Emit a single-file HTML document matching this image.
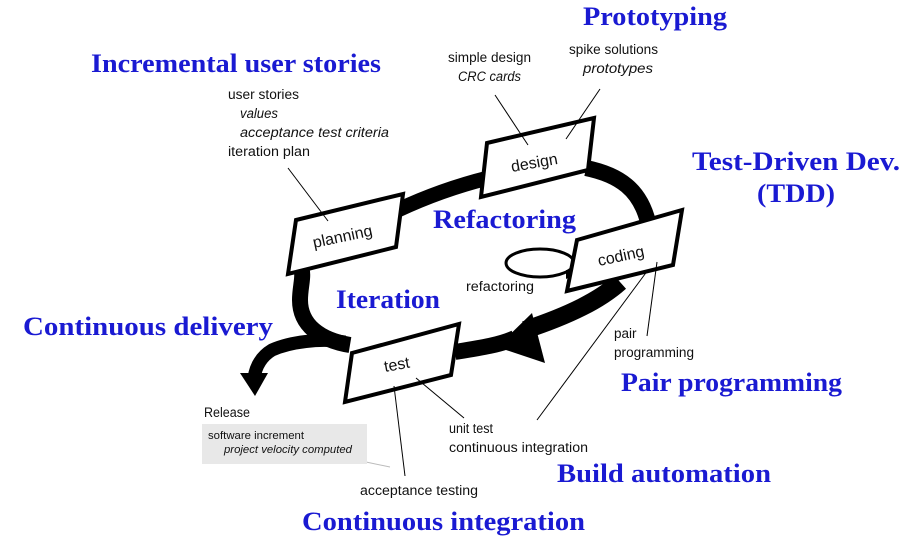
<!DOCTYPE html>
<html><head><meta charset="utf-8"><style>
html,body{margin:0;padding:0;background:#fff}
svg{display:block}
.b{font-family:"Liberation Serif",serif;font-weight:bold;font-size:26px;fill:#1a1ad2}
.s{font-family:"Liberation Sans",sans-serif;font-size:13.5px;fill:#111}
.i{font-style:italic}
.bx{font-family:"Liberation Sans",sans-serif;font-size:16px;fill:#111}
</style></head><body>
<svg width="917" height="558" viewBox="0 0 917 558" xmlns="http://www.w3.org/2000/svg">
<rect width="917" height="558" fill="#fff"/>
<g fill="none" stroke="#000" stroke-linecap="butt">
<path d="M398,210 C430,195 460,185 488,178" stroke-width="15"/>
<path d="M586,168 C620,175 640,190 648,222" stroke-width="16"/>
<path d="M300,265 C305,275 300,285 300,300 C300,325 320,340 350,345" stroke-width="16"/>
<path d="M455,352 C480,348 500,345 515,338" stroke-width="16"/>
<path d="M620,282 C600,300 570,315 525,330" stroke-width="18"/>
<path d="M345,342 C320,338 290,342 272,350 C262,356 256,365 254,378" stroke-width="13"/>
</g>
<polygon points="497,347 532,313 545,363" fill="#000"/>
<polygon points="240,373 268,373 255,396" fill="#000"/>
<ellipse cx="540" cy="263" rx="34" ry="14" fill="none" stroke="#000" stroke-width="3"/>
<polygon points="566,270 576,274 566,279" fill="#000"/>
<g fill="#fff" stroke="#000" stroke-width="4" stroke-linejoin="miter">
<polygon points="296,220 403,194 396,247 288,274"/>
<polygon points="487,143 594,118 588,170 481,197"/>
<polygon points="577,240 682,210 673,265 567,291"/>
<polygon points="352,353 459,324 451,375 345,402"/>
</g>
<text class="bx" transform="translate(314,248) rotate(-12)">planning</text>
<text class="bx" transform="translate(512,172) rotate(-10)">design</text>
<text class="bx" transform="translate(599,266) rotate(-12)">coding</text>
<text class="bx" transform="translate(385,372) rotate(-10)">test</text>
<g stroke="#000" stroke-width="1">
<line x1="495" y1="95" x2="528" y2="145"/>
<line x1="600" y1="89" x2="566" y2="139"/>
<line x1="288" y1="168" x2="328" y2="221"/>
<line x1="657" y1="262" x2="647" y2="336"/>
<line x1="648" y1="270" x2="537" y2="420"/>
<line x1="394" y1="386" x2="405" y2="476"/>
<line x1="416" y1="378" x2="464" y2="418"/>
<line x1="366" y1="462" x2="390" y2="467" stroke="#bbb"/>
</g>
<rect x="202" y="424" width="165" height="40" fill="#e8e8e8"/>
<text class="s" x="448" y="62" textLength="83" lengthAdjust="spacingAndGlyphs">simple design</text>
<text class="s i" x="458" y="81" textLength="63" lengthAdjust="spacingAndGlyphs">CRC cards</text>
<text class="s" x="569" y="54" textLength="89" lengthAdjust="spacingAndGlyphs">spike solutions</text>
<text class="s i" x="583" y="73" textLength="70" lengthAdjust="spacingAndGlyphs">prototypes</text>
<text class="s" x="228" y="99" textLength="71" lengthAdjust="spacingAndGlyphs">user stories</text>
<text class="s i" x="240" y="118" textLength="38" lengthAdjust="spacingAndGlyphs">values</text>
<text class="s i" x="240" y="137" textLength="149" lengthAdjust="spacingAndGlyphs">acceptance test criteria</text>
<text class="s" x="228" y="156" textLength="82" lengthAdjust="spacingAndGlyphs">iteration plan</text>
<text class="s" x="466" y="291" textLength="68" lengthAdjust="spacingAndGlyphs">refactoring</text>
<text class="s" x="614" y="338">pair</text>
<text class="s" x="614" y="357" textLength="80" lengthAdjust="spacingAndGlyphs">programming</text>
<text class="s" x="204" y="417" textLength="46" lengthAdjust="spacingAndGlyphs">Release</text>
<text class="s" x="208" y="439" style="font-size:11px" textLength="96" lengthAdjust="spacingAndGlyphs">software increment</text>
<text class="s i" x="224" y="453" style="font-size:11px" textLength="128" lengthAdjust="spacingAndGlyphs">project velocity computed</text>
<text class="s" x="449" y="433" textLength="44" lengthAdjust="spacingAndGlyphs">unit test</text>
<text class="s" x="449" y="452" textLength="139" lengthAdjust="spacingAndGlyphs">continuous integration</text>
<text class="s" x="360" y="495" textLength="118" lengthAdjust="spacingAndGlyphs">acceptance testing</text>
<text class="b" x="583" y="25" textLength="144" lengthAdjust="spacingAndGlyphs">Prototyping</text>
<text class="b" x="91" y="72" textLength="290" lengthAdjust="spacingAndGlyphs">Incremental user stories</text>
<text class="b" x="692" y="170" textLength="208" lengthAdjust="spacingAndGlyphs">Test-Driven Dev.</text>
<text class="b" x="757" y="202" textLength="78" lengthAdjust="spacingAndGlyphs">(TDD)</text>
<text class="b" x="433" y="228" textLength="143" lengthAdjust="spacingAndGlyphs">Refactoring</text>
<text class="b" x="336" y="308" textLength="104" lengthAdjust="spacingAndGlyphs">Iteration</text>
<text class="b" x="23" y="335" textLength="250" lengthAdjust="spacingAndGlyphs">Continuous delivery</text>
<text class="b" x="621" y="391" textLength="221" lengthAdjust="spacingAndGlyphs">Pair programming</text>
<text class="b" x="557" y="482" textLength="214" lengthAdjust="spacingAndGlyphs">Build automation</text>
<text class="b" x="302" y="530" textLength="283" lengthAdjust="spacingAndGlyphs">Continuous integration</text>
</svg>
</body></html>
